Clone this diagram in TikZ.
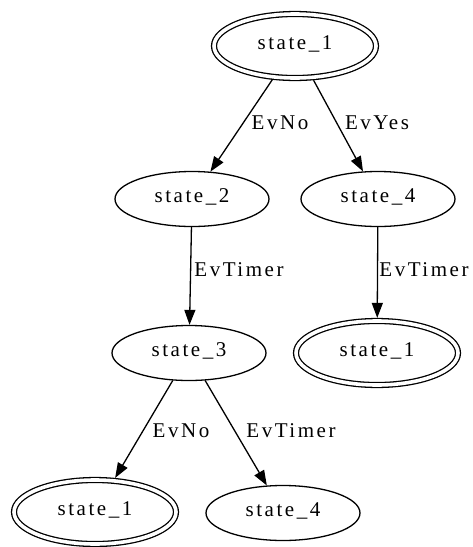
\documentclass[tikz,border=0pt]{standalone}
\usepackage{fontspec}
\setmainfont{Liberation Serif}[LetterSpace=12]
\usetikzlibrary{arrows.meta,shapes.geometric}

\tikzset{
  txt/.style={font=\fontsize{21}{25}\selectfont, text height=0.66em, text depth=0pt, inner sep=0pt},
  state/.style={txt, ellipse, draw, line width=1.3pt, minimum width=154pt, minimum height=55pt},
  final/.style={txt, ellipse, draw, line width=1.3pt, double, double distance=3.6pt,
    minimum width=162pt, minimum height=64pt, outer sep=3.1pt},
  lbl/.style={txt},
  trans/.style={line width=1.3pt, -{Triangle[length=15pt, width=11pt]}}
}

\begin{document}
\begin{tikzpicture}[x=1pt, y=-1pt]
  \useasboundingbox (0,0) rectangle (473,547);

  % states, one rank per row
  \node[final] (s1)  at (295,46)  {state\_1};
  \node[state] (s2)  at (192,199) {state\_2};
  \node[state] (s4)  at (378,199) {state\_4};
  \node[state] (s3)  at (189,353) {state\_3};
  \node[final] (s1b) at (377,353) {state\_1};
  \node[final] (s1c) at (95,512)  {state\_1};
  \node[state] (s4b) at (283,513) {state\_4};

  % transitions
  \draw[trans] (s1)  -- (s2);
  \draw[trans] (s1)  -- (s4);
  \draw[trans] (s2)  -- (s3);
  \draw[trans] (s4)  -- (s1b);
  \draw[trans] (s3)  -- (s1c);
  \draw[trans] (s3)  -- (s4b);

  % transition labels
  \node[lbl] (e1) at (280,126) {EvNo};
  \node[lbl] (e2) at (377,126) {EvYes};
  \node[lbl] (e3) at (239,273) {EvTimer};
  \node[lbl] (e4) at (424,273) {EvTimer};
  \node[lbl] (e5) at (181,434) {EvNo};
  \node[lbl] (e6) at (291,434) {EvTimer};
\end{tikzpicture}
\end{document}
